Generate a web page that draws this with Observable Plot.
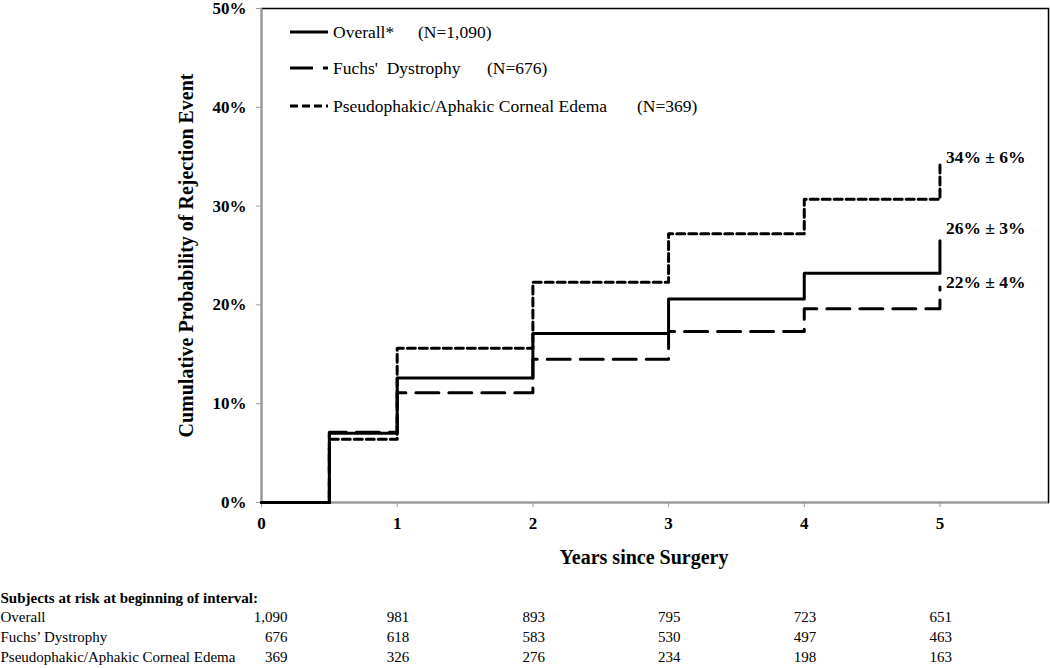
<!DOCTYPE html>
<html><head><meta charset="utf-8">
<script src="https://cdn.jsdelivr.net/npm/d3@7"></script>
<script src="https://cdn.jsdelivr.net/npm/@observablehq/plot@0.6"></script>
<style>body{margin:0;background:#fff} svg{display:block}</style>
</head><body><div id="chart"></div>
<script>
// ---- data ----
const years = [0, 0.5, 1, 2, 3, 4, 5];
const overall = [0, 0.070, 0.126, 0.171, 0.206, 0.232, 0.265];
const fuchs   = [0, 0.071, 0.111, 0.145, 0.173, 0.196, 0.218];
const pseudo  = [0, 0.064, 0.156, 0.223, 0.272, 0.307, 0.342];
const legendLabels = ["Overall*", "Fuchs'  Dystrophy", "Pseudophakic/Aphakic Corneal Edema"];
const legendN = ["(N=1,090)", "(N=676)", "(N=369)"];
const endLabels = ["26% \u00b1 3%", "22% \u00b1 4%", "34% \u00b1 6%"];
const xTicks = [0, 1, 2, 3, 4, 5];
const yTicks = [0, 0.1, 0.2, 0.3, 0.4, 0.5];
const xTitle = "Years since Surgery";
const yTitle = "Cumulative Probability of Rejection Event";
const tableHeader = "Subjects at risk at beginning of interval:";
const riskYears = [0, 1, 2, 3, 4, 5];
const riskRows = ["Overall", "Fuchs\u2019 Dystrophy", "Pseudophakic/Aphakic Corneal Edema"];
const riskOverall = [1090, 981, 893, 795, 723, 651];
const riskFuchs = [676, 618, 583, 530, 497, 463];
const riskPseudo = [369, 326, 276, 234, 198, 163];

// ---- build ----
const font = "'Liberation Serif', 'Times New Roman', serif";
const toPts = vals => vals.map((p, i) => ({t: years[i], p}));
const sOverall = toPts(overall), sFuchs = toPts(fuchs), sPseudo = toPts(pseudo);
const last = arr => [arr[arr.length - 1]];
const dashes = [null, "23,10", "8,4"];

const main = Plot.plot({
  width: 1050, height: 580,
  marginLeft: 261, marginRight: 2, marginTop: 8, marginBottom: 78,
  style: {fontFamily: font, fontSize: "17px", fontWeight: "bold", background: "white", color: "black"},
  x: {domain: [0, 5.8]},
  y: {domain: [0, 0.5]},
  marks: [
    Plot.frame({stroke: "black", strokeWidth: 1.5}),
    Plot.ruleX([0], {stroke: "#999", strokeWidth: 1.5}),
    Plot.ruleY([0], {stroke: "#999", strokeWidth: 1.5}),
    Plot.axisY({ticks: yTicks, tickFormat: d3.format(".0%"), tickSize: 5, tickPadding: 10, stroke: "#999", fill: "black", label: null}),
    Plot.axisX({ticks: xTicks, tickFormat: d3.format("d"), tickSize: 5, tickPadding: 9, stroke: "#999", fill: "black", label: null}),
    Plot.line(sPseudo, {x: "t", y: "p", curve: "step-after", stroke: "black", strokeWidth: 3, strokeDasharray: dashes[2]}),
    Plot.line(sFuchs, {x: "t", y: "p", curve: "step-after", stroke: "black", strokeWidth: 3, strokeDasharray: dashes[1]}),
    Plot.line(sOverall, {x: "t", y: "p", curve: "step-after", stroke: "black", strokeWidth: 3}),
    Plot.text(last(sOverall), {x: "t", y: "p", text: () => endLabels[0], textAnchor: "start", dx: 6, dy: -12, fontSize: 17.5}),
    Plot.text(last(sFuchs), {x: "t", y: "p", text: () => endLabels[1], textAnchor: "start", dx: 6, dy: -5, fontSize: 17.5}),
    Plot.text(last(sPseudo), {x: "t", y: "p", text: () => endLabels[2], textAnchor: "start", dx: 6, dy: -7, fontSize: 17.5}),
    Plot.text([xTitle], {text: d => d, frameAnchor: "bottom", dx: -11, dy: 61, fontSize: 20}),
    Plot.text([yTitle], {text: d => d, frameAnchor: "left", textAnchor: "middle", rotate: -90, dx: -75, fontSize: 20})
  ]
});

// legend (inside plot area, top-left)
const lg = d3.select(main).append("g")
  .attr("font-family", font).attr("font-size", 17.5).attr("font-weight", "normal")
  .attr("fill", "black").attr("text-anchor", "start");
const legendY = [32, 68, 106];
const legendNX = [418, 487, 637];
legendLabels.forEach((lab, i) => {
  const line = lg.append("line").attr("x1", 290).attr("x2", 328).attr("y1", legendY[i]).attr("y2", legendY[i])
    .attr("stroke", "black").attr("stroke-width", 3);
  if (dashes[i]) line.attr("stroke-dasharray", dashes[i]);
  lg.append("text").attr("x", 333).attr("y", legendY[i]).attr("dy", "0.35em")
    .attr("text-anchor", "start").style("white-space", "pre").text(lab);
  lg.append("text").attr("x", legendNX[i]).attr("y", legendY[i]).attr("dy", "0.35em")
    .attr("text-anchor", "start").text(legendN[i]);
});

// at-risk table
const riskData = [];
[riskOverall, riskFuchs, riskPseudo].forEach((vals, i) =>
  vals.forEach((n, j) => riskData.push({row: riskRows[i], t: riskYears[j], n})));
const fmt = d3.format(",");
const table = Plot.plot({
  width: 1050, height: 88,
  marginLeft: 261, marginRight: 2, marginTop: 36, marginBottom: 11,
  style: {fontFamily: font, fontSize: "15px", background: "white", color: "black"},
  x: {domain: [0, 5.8], axis: null},
  y: {type: "point", domain: riskRows, padding: 0, axis: null},
  marks: [
    Plot.text([tableHeader], {text: d => d, frameAnchor: "top-left", textAnchor: "start", dx: -261, dy: -24, fontWeight: "bold"}),
    Plot.text(riskRows, {y: d => d, text: d => d, frameAnchor: "left", textAnchor: "start", dx: -261}),
    Plot.text(riskData.filter(d => d.t === 0), {x: "t", y: "row", text: d => fmt(d.n), textAnchor: "end", dx: 26}),
    Plot.text(riskData.filter(d => d.t > 0), {x: "t", y: "row", text: d => fmt(d.n), textAnchor: "end", dx: 12})
  ]
});

const root = document.getElementById("chart");
root.appendChild(main);
root.appendChild(table);
</script>
</body></html>
